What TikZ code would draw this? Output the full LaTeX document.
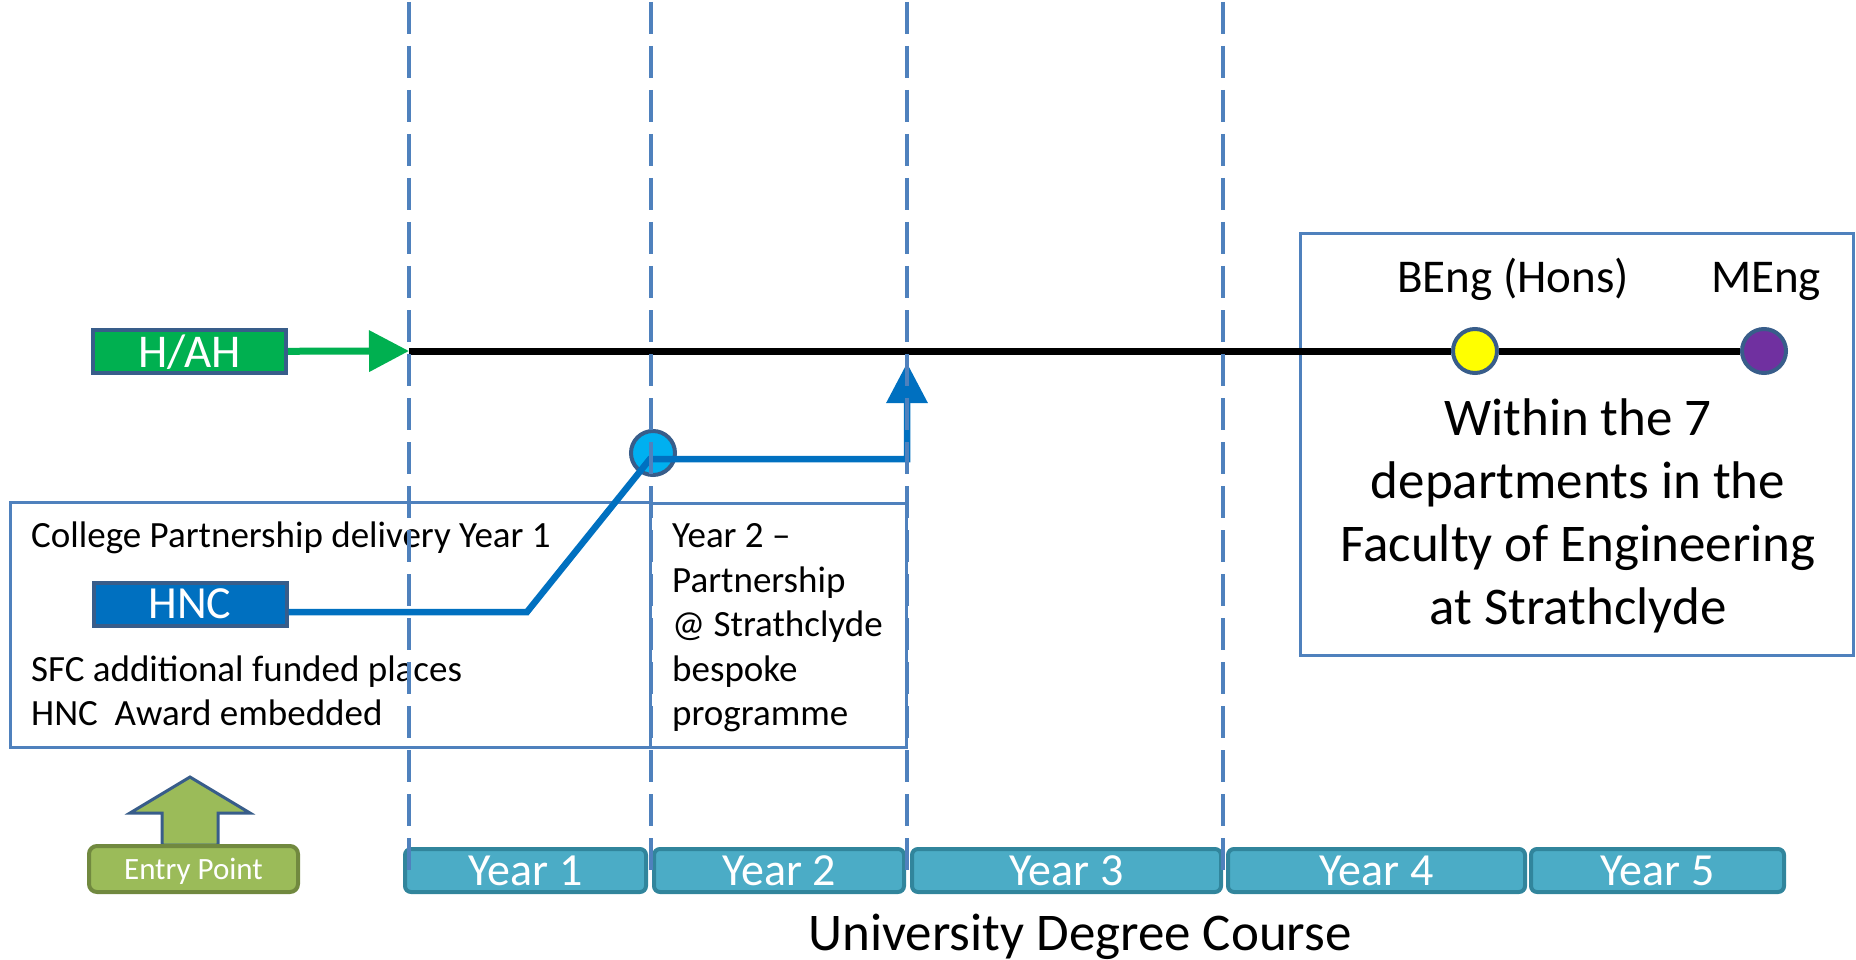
\documentclass[tikz,border=0pt]{standalone}
\usepackage{fontspec}
\setmainfont{Carlito}
\usetikzlibrary{arrows.meta,positioning}

\definecolor{guide}{HTML}{4F81BD}
\definecolor{edgeblue}{HTML}{385D8A}
\definecolor{hahgreen}{HTML}{00B050}
\definecolor{hncblue}{HTML}{0070C0}
\definecolor{hubcyan}{HTML}{00B0F0}
\definecolor{yearfill}{HTML}{4BACC6}
\definecolor{yearedge}{HTML}{31859C}
\definecolor{entryfill}{HTML}{9BBB59}
\definecolor{entryedge}{HTML}{71893F}
\definecolor{bengyellow}{HTML}{FFFF00}
\definecolor{mengpurple}{HTML}{7030A0}

\newcommand{\pxfont}[2]{\fontsize{#1}{#2}\selectfont}

\begin{document}
\begin{tikzpicture}[x=1pt,y=-1pt,>={Triangle[length=40pt,width=40pt]},
  qual/.style={draw=edgeblue,line width=4pt,minimum width=193pt,minimum height=43pt,inner sep=0pt,text=white,text depth=0pt,font=\pxfont{46}{46}},
  year/.style={draw=yearedge,fill=yearfill,line width=4pt,rounded corners=6pt,minimum height=43pt,inner sep=0pt,text=white,text depth=0pt,font=\pxfont{46}{46}},
  award/.style={circle,draw=edgeblue,line width=4pt,minimum size=44pt,inner sep=0pt},
  panel/.style={draw=guide,line width=3pt,inner sep=0pt},
  note/.style={font=\pxfont{37}{44.5},align=left,inner sep=0pt},
  label/.style={inner sep=0pt,anchor=base},
  guideline/.style={draw=guide,line width=3.5pt,dash pattern=on 32pt off 12pt},
  route/.style={draw=hncblue,line width=6.5pt}]
\useasboundingbox (0,0) rectangle (1856,960);

% boxes behind everything
\node[panel,minimum width=640pt,minimum height=245pt] (college) at (330,624.5) {};
\node[panel,minimum width=256pt,minimum height=244pt] (bespoke) at (778,625) {};
\node[panel,minimum width=553pt,minimum height=421pt] (faculty) at (1576.5,444.5) {};

\node[qual,fill=hahgreen,font=\pxfont{47}{47}] (hah) at (189.5,351.5) {H/AH};
\node[qual,fill=hncblue] (hnc) at (190,604) {HNC};
\node[award,fill=hubcyan] (hub) at (653,453) {};
\node[award,fill=bengyellow] (beng) at (1475,351) {};
\node[award,fill=mengpurple] (meng) at (1764,351) {};

\coordinate (start) at (409,351);
\coordinate (bend) at (527,612);
\coordinate (join) at (650,459);
\coordinate (rise) at (907,459);
\coordinate (top) at (907,363);

\node[label,font=\pxfont{47}{47}] (bengl) at (1513,292) {BEng (Hons)};
\node[label,font=\pxfont{47}{47}] (mengl) at (1766,292) {MEng};
\node[font=\pxfont{53}{63},align=center,inner sep=0pt,anchor=north] (dept) at (1578,398)
  {Within the 7\\departments in the\\Faculty of Engineering\\at Strathclyde};

\node[note,anchor=base west] (deliv) at (31,547) {College Partnership delivery Year 1};
\node[note,anchor=north west] (sfc) at (31,655.5) {SFC additional funded places\\HNC\ \ Award embedded};
\node[note,anchor=north west] (yr2) at (672,523.6) {Year 2 --\\Partnership\\@ Strathclyde\\bespoke\\programme};

% year strip
\node[year,minimum width=241pt] (y1) at (525.5,870.5) {Year 1};
\node[year,minimum width=250pt] (y2) [right=4pt of y1] {Year 2};
\node[year,minimum width=309pt] (y3) [right=4pt of y2] {Year 3};
\node[year,minimum width=297pt] (y4) [right=3pt of y3] {Year 4};
\node[year,minimum width=253pt] (y5) [right=2pt of y4] {Year 5};
\node[label,font=\pxfont{53}{53}] (course) at (1080,950) {University Degree Course};

% entry point
\coordinate (pointer) at (190,845);
\draw[draw=edgeblue,fill=entryfill,line width=3pt] (pointer) -- ++(-28,0) -- ++(0,-32) -- ++(-32,0)
  -- (190,777) -- ++(60,36) -- ++(-32,0) -- ++(0,32) -- cycle;
\node[draw=entryedge,fill=entryfill,line width=4pt,rounded corners=8pt,minimum width=209pt,minimum height=46pt,
  inner sep=0pt,text=white,text depth=0pt,font=\pxfont{31}{31}] (entry) at (193.5,869) {Entry Point};

% routes
\draw[draw=black,line width=7pt] (start) -- (beng) -- (meng);
\draw[draw=hahgreen,line width=7pt,->] (hah) -- (start);
\draw[route,->] (hnc.east |- bend) -- (bend) -- (join) -- (rise) -- (top);

\foreach \gx in {409,651,907,1223}
  \draw[guideline] (\gx,2) -- (\gx,870);
\end{tikzpicture}
\end{document}
